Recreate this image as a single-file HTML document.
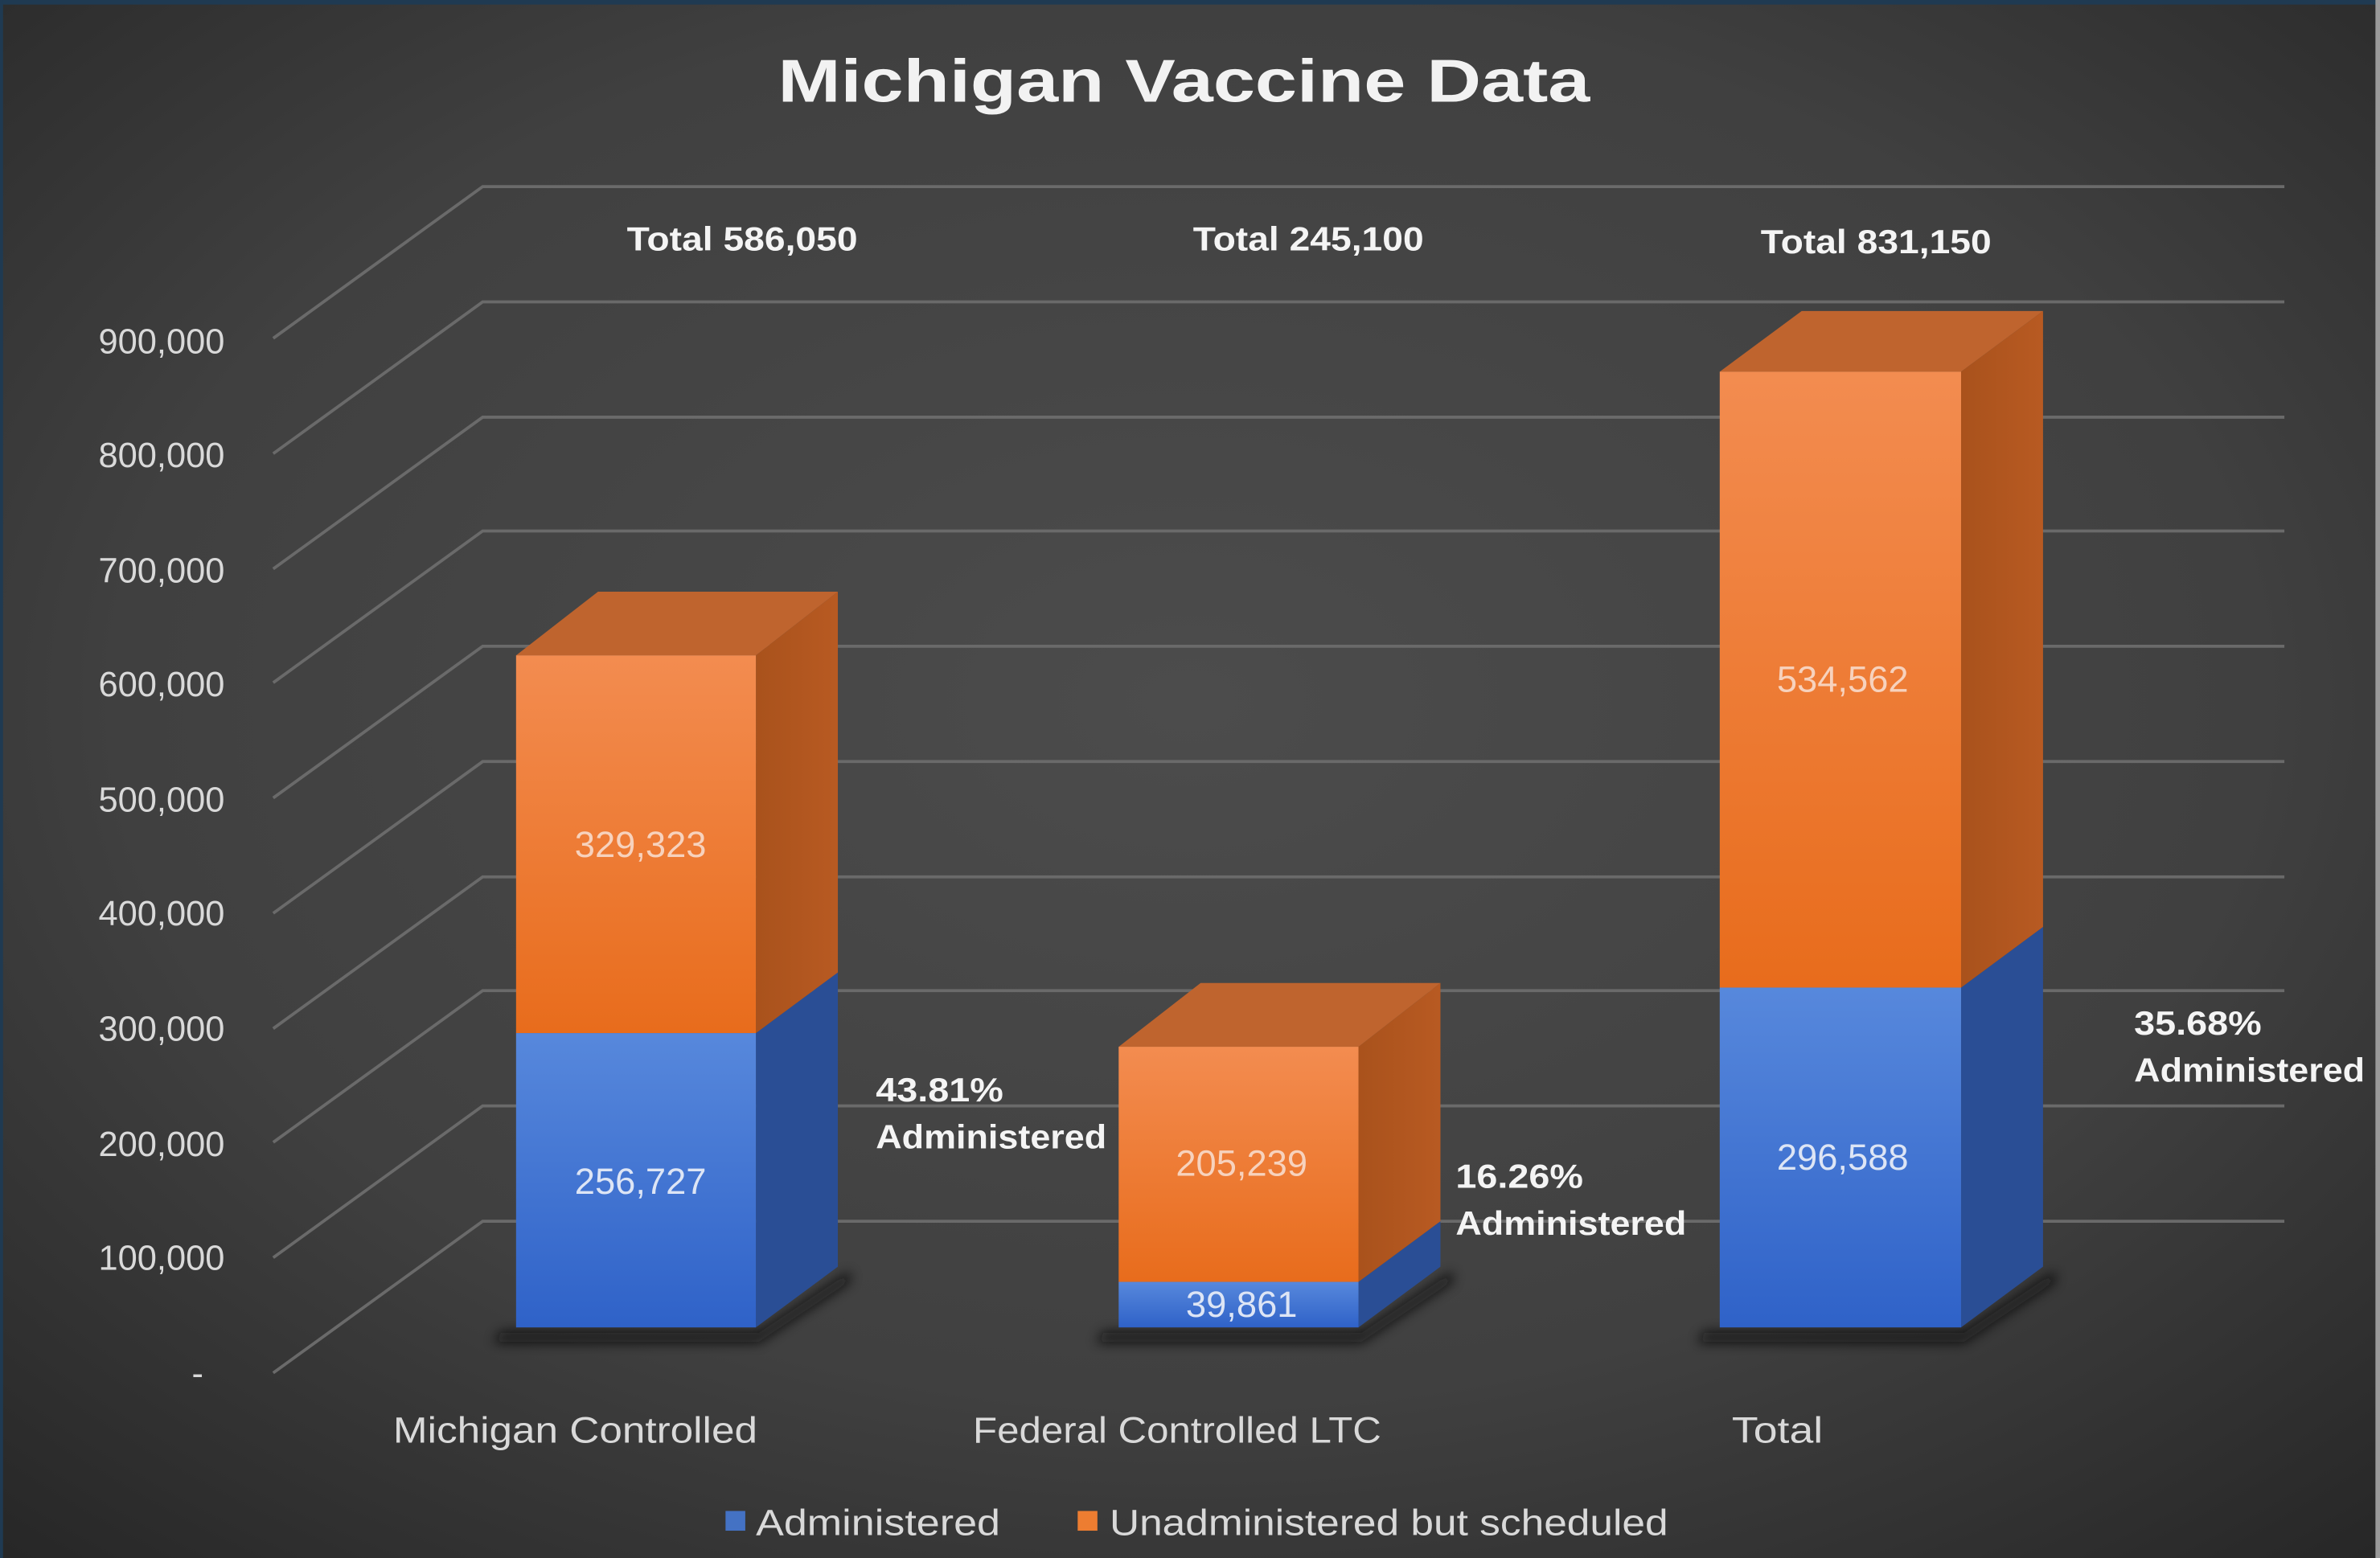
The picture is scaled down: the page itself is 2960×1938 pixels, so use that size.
<!DOCTYPE html>
<html><head><meta charset="utf-8"><style>
html,body{margin:0;padding:0;background:#333;}
svg{display:block;}
text{font-family:"Liberation Sans",sans-serif;}
</style></head><body>
<svg width="2960" height="1938" viewBox="0 0 1568 1027" preserveAspectRatio="none" xmlns="http://www.w3.org/2000/svg">
<defs>
<radialGradient id="bg" cx="0.5" cy="0.45" r="0.75">
<stop offset="0" stop-color="#4c4c4c"/><stop offset="0.6" stop-color="#404040"/><stop offset="1" stop-color="#262626"/>
</radialGradient>
<linearGradient id="of" x1="0" y1="0" x2="0" y2="1"><stop offset="0" stop-color="#f38c50"/><stop offset="1" stop-color="#e86c1c"/></linearGradient>
<linearGradient id="os" x1="0" y1="0" x2="1" y2="0"><stop offset="0" stop-color="#a9521c"/><stop offset="1" stop-color="#b85a22"/></linearGradient>
<linearGradient id="bf" x1="0" y1="0" x2="0" y2="1"><stop offset="0" stop-color="#5788dc"/><stop offset="1" stop-color="#2f62c8"/></linearGradient>
<filter id="sh" x="-20%" y="-50%" width="140%" height="200%"><feGaussianBlur stdDeviation="4"/></filter>
</defs>
<rect width="1568" height="1027" fill="url(#bg)"/>
<rect width="1568" height="3" fill="#1f3a52"/>
<rect width="2" height="1027" fill="#1f3a52"/>
<rect x="1565" y="0" width="3" height="1027" fill="#9a9a9a"/>
<g stroke="#6a6a6a" stroke-width="2" fill="none">
<path d="M180 905L318 805H1505"/>
<path d="M180 829L318 729H1505"/>
<path d="M180 753L318 653H1505"/>
<path d="M180 678L318 578H1505"/>
<path d="M180 602L318 502H1505"/>
<path d="M180 526L318 426H1505"/>
<path d="M180 450L318 350H1505"/>
<path d="M180 375L318 275H1505"/>
<path d="M180 299L318 199H1505"/>
<path d="M180 223L318 123H1505"/>
</g>
<text x="780" y="67" text-anchor="middle" font-size="40" font-weight="bold" fill="#f2f2f2" textLength="535" lengthAdjust="spacingAndGlyphs">Michigan Vaccine Data</text>
<g font-size="23" fill="#d9d9d9" text-anchor="end">
<text x="148" y="233">900,000</text><text x="148" y="308">800,000</text><text x="148" y="384">700,000</text>
<text x="148" y="459">600,000</text><text x="148" y="535">500,000</text><text x="148" y="610">400,000</text>
<text x="148" y="686">300,000</text><text x="148" y="762">200,000</text><text x="148" y="837">100,000</text>
<text x="134" y="913">-</text>
</g>
<!-- shadows -->
<g fill="#0a0a0a" opacity="0.85" filter="url(#sh)">
<path d="M330 878L500 878L560 838L560 845L500 885L325 885Z"/>
<path d="M727 878L897 878L957 838L957 845L897 885L722 885Z"/>
<path d="M1123 878L1294 878L1354 838L1354 845L1294 885L1118 885Z"/>
</g>
<!-- bar1 -->
<path d="M498 681L552 641V835L498 875Z" fill="#2a4e95"/>
<path d="M498 432L552 390V641L498 681Z" fill="url(#os)"/>
<path d="M340 432L394 390H552L498 432Z" fill="#bf642e"/>
<rect x="340" y="432" width="158" height="249" fill="url(#of)"/>
<rect x="340" y="681" width="158" height="194" fill="url(#bf)"/>
<!-- bar2 -->
<path d="M895 845L949 805V835L895 875Z" fill="#2a4e95"/>
<path d="M895 690L949 648V805L895 845Z" fill="url(#os)"/>
<path d="M737 690L791 648H949L895 690Z" fill="#bf642e"/>
<rect x="737" y="690" width="158" height="155" fill="url(#of)"/>
<rect x="737" y="845" width="158" height="30" fill="url(#bf)"/>
<!-- bar3 -->
<path d="M1292 651L1346 611V835L1292 875Z" fill="#2a4e95"/>
<path d="M1292 245L1346 205V611L1292 651Z" fill="url(#os)"/>
<path d="M1133 245L1187 205H1346L1292 245Z" fill="#bf642e"/>
<rect x="1133" y="245" width="159" height="406" fill="url(#of)"/>
<rect x="1133" y="651" width="159" height="224" fill="url(#bf)"/>
<g font-size="24" text-anchor="middle">
<text x="422" y="565" fill="#f7d2bd">329,323</text>
<text x="422" y="787" fill="#dde5f5">256,727</text>
<text x="818" y="775" fill="#f7d2bd">205,239</text>
<text x="818" y="868" fill="#dde5f5">39,861</text>
<text x="1214" y="456" fill="#f7d2bd">534,562</text>
<text x="1214" y="771" fill="#dde5f5">296,588</text>
</g>
<g font-size="22" font-weight="bold" fill="#f4f4f4">
<text x="489" y="165" text-anchor="middle" textLength="152" lengthAdjust="spacingAndGlyphs">Total 586,050</text>
<text x="862" y="165" text-anchor="middle" textLength="152" lengthAdjust="spacingAndGlyphs">Total 245,100</text>
<text x="1236" y="167" text-anchor="middle" textLength="152" lengthAdjust="spacingAndGlyphs">Total 831,150</text>
<text x="577" y="726" textLength="84" lengthAdjust="spacingAndGlyphs">43.81%</text>
<text x="577" y="757" textLength="152" lengthAdjust="spacingAndGlyphs">Administered</text>
<text x="959" y="783" textLength="84" lengthAdjust="spacingAndGlyphs">16.26%</text>
<text x="959" y="814" textLength="152" lengthAdjust="spacingAndGlyphs">Administered</text>
<text x="1406" y="682" textLength="84" lengthAdjust="spacingAndGlyphs">35.68%</text>
<text x="1406" y="713" textLength="152" lengthAdjust="spacingAndGlyphs">Administered</text>
</g>
<g font-size="24" fill="#d9d9d9">
<text x="259" y="951" textLength="240" lengthAdjust="spacingAndGlyphs">Michigan Controlled</text>
<text x="641" y="951" textLength="269" lengthAdjust="spacingAndGlyphs">Federal Controlled LTC</text>
<text x="1141" y="951" textLength="60" lengthAdjust="spacingAndGlyphs">Total</text>
<rect x="478" y="996" width="13" height="13" fill="#4472c4"/>
<text x="498" y="1012" textLength="161" lengthAdjust="spacingAndGlyphs">Administered</text>
<rect x="710" y="996" width="13" height="13" fill="#ed7d31"/>
<text x="731" y="1012" textLength="368" lengthAdjust="spacingAndGlyphs">Unadministered but scheduled</text>
</g>
</svg>
</body></html>
